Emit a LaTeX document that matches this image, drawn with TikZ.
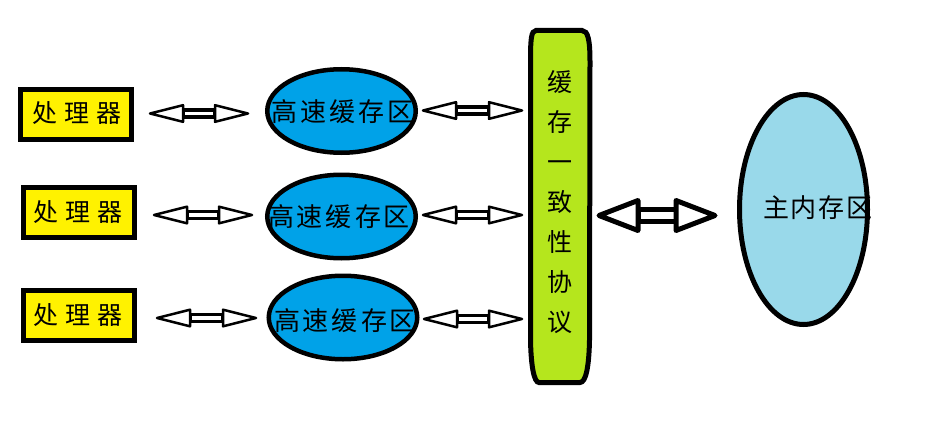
\documentclass[tikz,border=0pt]{standalone}
\usepackage{fontspec}
\newfontfamily\cjk{Noto Sans CJK SC}
\usetikzlibrary{shapes.geometric,calc}
\definecolor{procY}{HTML}{FFF200}
\definecolor{cacheB}{HTML}{00A2E8}
\definecolor{barG}{HTML}{B5E61D}
\definecolor{memB}{HTML}{99D9EA}
\newcommand\gp[1]{\hspace{#1pt}}
\newcommand\dblarr[7]{%
  \draw[#6] ($(#1)+(#5,-#4)$) rectangle ($(#2)+(-#5,#4)$);
  \draw[#7] (#1) -- ++(#5,-#3) -- ++(0,2*#3) -- cycle;
  \draw[#7] (#2) -- ++(-#5,-#3) -- ++(0,2*#3) -- cycle;}
\tikzset{
  proc/.style={draw, line width=5pt, fill=procY, minimum width=111pt, minimum height=50pt, inner sep=0pt},
  cache/.style={ellipse, draw, line width=4.5pt, fill=cacheB, minimum width=148.5pt, minimum height=83.5pt, inner sep=0pt},
  mem/.style={ellipse, draw, line width=5pt, fill=memB, minimum width=128pt, minimum height=230pt, inner sep=0pt},
  lbl/.style={font=\cjk\fontsize{25}{30}\selectfont, inner sep=0pt},
  ahead/.style={draw, line width=2.5pt, fill=white, line join=round},
  ashaft/.style={draw, line width=3.5pt, fill=white, line join=miter},
  bighead/.style={draw, line width=5pt, fill=white, line join=round},
  bigshaft/.style={draw, line width=5pt, fill=white, line join=miter},
  barshape/.style={draw, line width=5pt, fill=barG},
}
\begin{document}
\begin{tikzpicture}[x=1pt,y=-1pt]
\useasboundingbox[fill=white] (0,0) rectangle (939,436);

% processors
\node[proc] (p1) at (75.5,114) {};
\node[proc] (p2) at (79,212.5) {};
\node[proc] (p3) at (79,315.5) {};
\node[lbl] (p1t) at (76.5,113) {处\gp{7}理\gp{7}器};
\node[lbl] (p2t) at (78,212.5) {处\gp{7}理\gp{7}器};
\node[lbl] (p3t) at (78,315.5) {处\gp{7}理\gp{7}器};

% caches
\node[cache] (c1) at (341.5,111) {};
\node[cache] (c2) at (341.5,216.5) {};
\node[cache] (c3) at (343,317.5) {};
\node[lbl,font=\cjk\fontsize{26}{30}\selectfont] (c1t) at (342.5,112) {高\gp{3}速\gp{3}缓\gp{3}存\gp{3}区};
\node[lbl,font=\cjk\fontsize{26}{30}\selectfont] (c2t) at (339,216.5) {高\gp{3}速\gp{3}缓\gp{3}存\gp{3}区};
\node[lbl,font=\cjk\fontsize{26}{30}\selectfont] (c3t) at (345,321) {高\gp{3}速\gp{3}缓\gp{3}存\gp{3}区};

% coherence bar
\draw[barshape] (536,30.5) -- (582,30.5)
  .. controls (588,30.5) and (590,40) .. (590,62)
  -- (589.5,340)
  .. controls (589,366) and (586,382.5) .. (580,382.5)
  -- (539,382.5)
  .. controls (534,382.5) and (531,366) .. (530.5,340)
  -- (530.5,62)
  .. controls (530.5,40) and (531,30.5) .. (536,30.5) -- cycle;
\node[lbl,align=center,font=\cjk\fontsize{25}{40}\selectfont] (bar) at (560,202) {缓\\存\\一\\致\\性\\协\\议};

% main memory
\node[mem] (m) at (803.5,209.5) {};
\node[lbl,font=\cjk\fontsize{26}{30}\selectfont] (mt) at (818,208) {主\gp{2}内\gp{2}存\gp{2}区};

% arrow end points
\coordinate (a1l) at (150,113.5); \coordinate (a1r) at (248,113.5);
\coordinate (a2l) at (154,215);   \coordinate (a2r) at (252,215);
\coordinate (a3l) at (157,318);   \coordinate (a3r) at (256,318);
\coordinate (b1l) at (423,110.5); \coordinate (b1r) at (522,110.5);
\coordinate (b2l) at (423,215);   \coordinate (b2r) at (522,215);
\coordinate (b3l) at (424,319);   \coordinate (b3r) at (522,319);
\coordinate (ml) at (599,215.5);  \coordinate (mr) at (715,215.5);

\dblarr{a1l}{a1r}{8.3}{3.3}{33}{ashaft}{ahead}
\dblarr{a2l}{a2r}{8.3}{3.3}{33}{ashaft}{ahead}
\dblarr{a3l}{a3r}{8.3}{3.3}{33}{ashaft}{ahead}
\dblarr{b1l}{b1r}{8.3}{3.3}{33}{ashaft}{ahead}
\dblarr{b2l}{b2r}{8.3}{3.3}{33}{ashaft}{ahead}
\dblarr{b3l}{b3r}{8.3}{3.3}{33}{ashaft}{ahead}
\dblarr{ml}{mr}{15}{6}{39}{bigshaft}{bighead}
\end{tikzpicture}
\end{document}
